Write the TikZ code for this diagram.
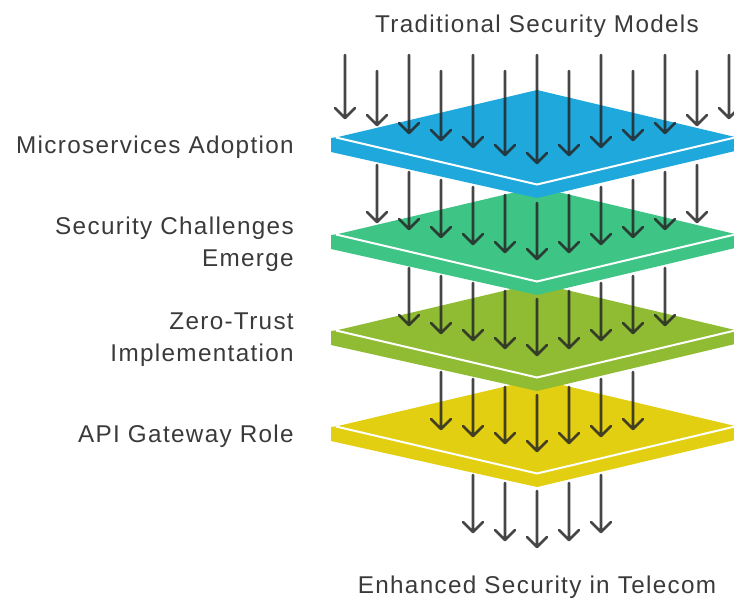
\documentclass[tikz,border=0pt]{standalone}
\usepackage{fontspec}
\setmainfont[LetterSpace=5.5]{Liberation Sans}
\definecolor{txt}{HTML}{3A3A3A}
\definecolor{arr}{HTML}{262626}
\definecolor{cblue}{HTML}{1FA8DC}
\definecolor{cgreen}{HTML}{3EC585}
\definecolor{colive}{HTML}{90BC34}
\definecolor{cyellow}{HTML}{E2CF11}
\tikzset{
  x=0.75pt,y=-0.75pt,
  lbl/.style={font=\fontsize{18.2}{24}\selectfont,text=txt,inner sep=0pt,align=right,anchor=east},
  ttl/.style={font=\fontsize{18.2}{24}\selectfont,text=txt,inner sep=0pt},
  arrowline/.style={draw=arr,opacity=0.85,line width=2pt,line cap=round,line join=round},
  edge/.style={draw=white,line width=1.5pt},
}
\newcommand{\layer}[2]{%
  \fill[#2] (331,#1+1) -- (338,#1) -- (537,#1-47) -- (735,#1) -- (735,#1+14) -- (537,#1+61) -- (331,#1+15) -- cycle;
  \draw[edge] (336,#1+0.5) -- (537,#1+47.5) -- (735,#1+0.5);
}
\newcommand{\arrowdown}[3]{%
  \draw[arrowline] (#1,#2) -- (#1,#3) (#1-10,#3-10) -- (#1,#3) -- (#1+10,#3-10);
}
\begin{document}
\begin{tikzpicture}
\useasboundingbox (0,0) rectangle (734,598);
\layer{426}{cyellow}
\foreach \x/\s/\t in {441/372/429,473/379/436,505/387/443,537/395/451,569/387/443,601/379/436,633/372/429}{\arrowdown{\x}{\s}{\t}}
\layer{330}{colive}
\foreach \x/\s/\t in {409/268/325,441/276/333,473/283/340,505/291/348,537/299/355,569/291/348,601/283/340,633/276/333,665/268/325}{\arrowdown{\x}{\s}{\t}}
\layer{234}{cgreen}
\foreach \x/\s/\t in {377/165/222,409/172/229,441/180/237,473/187/244,505/195/252,537/203/259,569/195/252,601/187/244,633/180/237,665/172/229,697/165/222}{\arrowdown{\x}{\s}{\t}}
\layer{137}{cblue}
\foreach \x/\s/\t in {345/55/118,377/71/125,409/55/133,441/71/140,473/55/147,505/71/155,537/55/163,569/71/155,601/55/147,633/71/140,665/55/133,697/71/125,729/55/118}{\arrowdown{\x}{\s}{\t}}
\foreach \x/\s/\t in {473/475/532,505/483/540,537/491/547,569/483/540,601/475/532}{\arrowdown{\x}{\s}{\t}}
\node[ttl] (top) at (537,26.5) {Traditional Security Models};
\node[ttl] (bot) at (537,587.5) {Enhanced Security in Telecom};
\node[lbl] (a) at (294,147) {Microservices Adoption};
\node[lbl] (b) at (294,244) {Security Challenges\\Emerge};
\node[lbl] (c) at (294,339.5) {Zero-Trust\\Implementation};
\node[lbl] (d) at (294,436) {API Gateway Role};
\end{tikzpicture}
\end{document}
